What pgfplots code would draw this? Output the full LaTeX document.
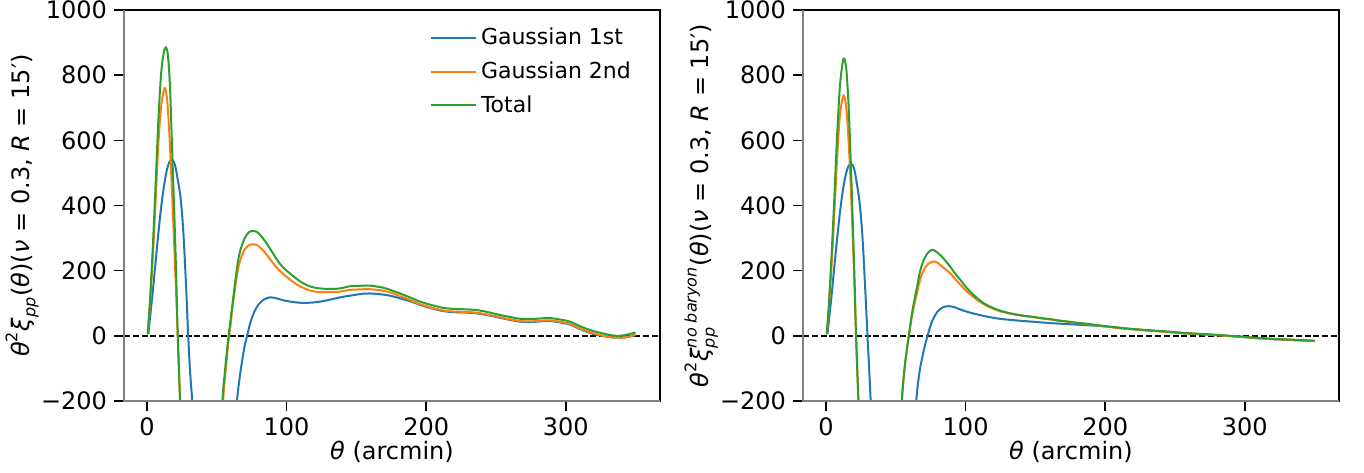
\documentclass[border=0pt]{standalone}
\usepackage{fontspec}
\setmainfont{DejaVu Sans}
\usepackage{amsmath}
\usepackage{pgfplots}
\pgfplotsset{compat=1.18}

\definecolor{c0}{HTML}{1F77B4}
\definecolor{c1}{HTML}{FF7F0E}
\definecolor{c2}{HTML}{2CA02C}

\newcommand{\mi}[1]{\text{\itshape #1}}
\newcommand{\mr}[1]{\text{#1}}

\pgfplotsset{
  panel/.style={
    scale only axis, width=268pt, height=195.5pt,
    xmin=-16.5, xmax=367.5, ymin=-200, ymax=1000,
    xtick={0,100,200,300},
    ytick={-200,0,200,400,600,800,1000},
    yticklabels={−200,0,200,400,600,800,1000},
    tick pos=left, tick align=outside, major tick length=5pt,
    every tick/.style={black, line width=0.8pt},
    axis line style={line width=0.8pt},
    tick label style={font=\fontsize{12}{14}\selectfont},
    label style={font=\fontsize{12}{14}\selectfont},
    /pgf/number format/assume math mode=true,
    xlabel={{\itshape θ} (arcmin)},
    x label style={at={(axis description cs:0.5,0)}, anchor=center, yshift=-25.5pt},
    y label style={at={(axis description cs:-0.19,0.5)}, anchor=center},
    every axis plot/.append style={line width=1pt, smooth},
    after end axis/.code={
      \draw[gray, line width=0.8pt] (rel axis cs:0,1) -- (rel axis cs:0,0) -- (rel axis cs:1,0);
    },
  },
  zeroline/.style={black, line width=0.9pt, dash pattern=on 3pt off 1.4pt, forget plot, sharp plot},
}

\begin{document}
\begin{tikzpicture}
\path[use as bounding box] (-62pt,-35.5pt) rectangle (620pt,200.5pt);

% left panel
\begin{axis}[panel,
  ylabel={$\mi{θ}^{\mr{2}}\mi{ξ}_{\mi{pp}}\mr{(}\mi{θ}\mr{)(}\mi{ν}\mr{ = 0.3, }\mi{R}\mr{ = 15′)}$},
  legend style={draw=none, fill=none, at={(0.965,0.975)}, anchor=north east,
    font=\fontsize{11}{13}\selectfont, row sep=3pt, cells={anchor=west}},
  legend image code/.code={\draw[#1, line width=1pt, sharp plot] (0pt,0pt) -- (22.5pt,0pt);},
]
\addplot[zeroline] coordinates {(-16.5,0) (367.5,0)};
\addplot[c0] coordinates {
(1,5) (2,50) (4,130) (6,220) (8,310) (10,390) (12,455) (14,505) (16,533) (18,541)
(20,525) (22,480) (24,425) (26,320) (28,150) (29.5,0) (31,-120) (33,-230) (35,-350)
(38,-550) (45,-800) (55,-700) (60,-450) (64,-220) (66,-140) (68,-80) (70,-30) (71.7,0)
(74,40) (77,75) (80,97) (84,112) (88,118) (92,116) (96,111) (100,107) (106,103) (112,101)
(118,102) (124,105) (130,110) (136,116) (142,121) (148,125) (154,129) (160,130) (166,128)
(172,125) (178,119) (184,112) (190,104) (195,96) (200,89) (206,82) (212,76) (218,73)
(224,72) (230,71) (236,69) (242,65) (248,60) (254,54) (260,49) (266,44) (272,42) (278,43)
(284,45) (290,45) (296,41) (302,36) (306,29) (310,21) (314,14) (318,8) (322,3) (326,0)
(330,-3) (334,-5) (338,-6) (342,-5) (346,-2) (350,2)
};
\addlegendentry{Gaussian 1st}
\addplot[c1] coordinates {
(0.5,5) (2,90) (4,230) (6,400) (8,580) (10,700) (12,752) (13,759) (14.5,720) (16,620)
(17.5,480) (19,330) (20.5,170) (22,0) (23.5,-180) (25,-360) (28,-650) (38,-900) (48,-700)
(52,-400) (54.5,-200) (56.5,-100) (58.5,-10) (59.5,20) (61,80) (63,145) (65,200) (67,235)
(70,265) (73,278) (76,281) (79,278) (82,267) (85,253) (88,236) (91,219) (94,204) (97,192)
(100,181) (104,168) (108,156) (112,147) (116,140) (120,136) (125,134) (130,134) (135,134)
(140,137) (145,141) (150,142) (155,143) (160,143) (165,141) (170,138) (175,132) (180,124)
(185,116) (190,107) (195,98) (200,91) (206,84) (212,78) (218,75) (224,74) (230,73) (236,71)
(242,67) (248,62) (254,56) (260,51) (266,46) (272,44) (278,45) (284,47) (290,47) (296,43)
(302,38) (306,31) (310,23) (314,16) (318,10) (322,5) (326,1) (330,-2) (334,-5) (338,-6)
(342,-5) (346,-1) (350,3)
};
\addlegendentry{Gaussian 2nd}
\addplot[c2] coordinates {
(0.5,5) (2,100) (4,260) (6,450) (8,650) (10,800) (12,870) (13.6,885) (15,860) (16.5,760)
(18,570) (19.5,380) (21,170) (22,0) (23.5,-180) (25,-360) (28,-650) (38,-900) (48,-700)
(52,-400) (54,-200) (56,-100) (58,-15) (59,20) (61,90) (63,160) (65,225) (67,265) (70,300)
(73,318) (76,322) (79,318) (82,305) (85,288) (88,268) (91,248) (94,228) (97,212) (100,200)
(104,186) (108,172) (112,161) (116,153) (120,148) (125,145) (130,144) (135,144) (140,147)
(145,152) (150,153) (155,154) (160,154) (165,151) (170,147) (175,140) (180,132) (185,124)
(190,115) (195,106) (200,99) (206,92) (212,86) (218,83) (224,82) (230,81) (236,79) (242,75)
(248,69) (254,63) (260,58) (266,53) (272,51) (278,52) (284,54) (290,54) (296,50) (302,45)
(306,38) (310,30) (314,23) (318,17) (322,12) (326,8) (330,4) (334,1) (338,0) (342,2)
(346,6) (350,10)
};
\addlegendentry{Total}
\end{axis}

% right panel
\begin{axis}[panel, at={(339.5pt,0pt)},
  ylabel={$\mi{θ}^{\mr{2}}\mi{ξ}^{\mi{no baryon}}_{\mi{pp}}\mr{(}\mi{θ}\mr{)(}\mi{ν}\mr{ = 0.3, }\mi{R}\mr{ = 15′)}$},
]
\addplot[zeroline] coordinates {(-16.5,0) (367.5,0)};
\addplot[c0] coordinates {
(1,5) (2,45) (4,125) (6,215) (8,300) (10,380) (12,445) (14,492) (16,520) (18,528)
(20,515) (22,470) (24,410) (26,310) (28,150) (29.7,0) (31,-110) (32,-200) (34,-330)
(37,-520) (45,-800) (55,-700) (60,-450) (64.6,-200) (67,-110) (70,-45) (72.7,0) (76,45)
(80,75) (84,88) (88,91) (92,88) (96,81) (101,74) (107,67) (113,61) (119,56) (125,52)
(137,47) (149,43) (161,39) (173,36) (185,33) (197,30) (210,24) (220,20) (232,16) (245,12)
(256,8) (268,5) (280,2) (290,-1) (300,-4) (308,-7) (316,-9) (323,-11) (330,-12) (340,-14)
(350,-16)
};
\addplot[c1] coordinates {
(0.5,5) (2,85) (4,220) (6,380) (8,550) (10,680) (12,730) (13,736) (14.5,700) (16,610)
(17.5,480) (19,320) (20.5,140) (21.5,0) (23.2,-200) (25,-400) (28,-700) (38,-900) (48,-700)
(52,-400) (54.3,-200) (56.5,-90) (59.3,0) (62,70) (65.2,132) (67.5,175) (70,202) (73,220)
(77,228) (80,224) (83,213) (86,203) (89,192) (92,177) (95,163) (98,149) (101,136) (105,121)
(109,108) (113,97) (117,88) (121,81) (125,75) (131,69) (137,64) (143,60) (149,57) (155,53)
(161,50) (167,46) (173,43) (180,39) (187,36) (194,32) (200,29) (210,24) (220,20) (232,16)
(245,12) (256,8) (268,5) (280,2) (290,-1) (300,-4) (308,-7) (316,-9) (323,-11) (330,-12)
(340,-14) (350,-16)
};
\addplot[c2] coordinates {
(0.5,5) (2,95) (4,250) (6,430) (8,620) (10,770) (12,840) (13,851) (14.5,820) (16,720)
(17.5,560) (19,370) (20.5,160) (21.5,0) (23.2,-200) (25,-400) (28,-700) (38,-900) (48,-700)
(52,-400) (54.3,-200) (56.5,-90) (59.3,0) (62,80) (65.2,151) (67.5,200) (70,233) (73,255)
(76,264) (79,258) (83,243) (86,228) (89,212) (92,194) (95,178) (98,162) (101,146) (105,128)
(109,113) (113,100) (117,91) (121,83) (125,77) (131,70) (137,65) (143,61) (149,58) (155,54)
(161,51) (167,47) (173,44) (180,40) (187,37) (194,33) (200,30) (210,25) (220,21) (232,17)
(245,13) (256,9) (268,6) (280,3) (290,0) (300,-3) (308,-6) (316,-8) (323,-10) (330,-11)
(340,-13) (350,-15)
};
\end{axis}
\end{tikzpicture}
\end{document}
